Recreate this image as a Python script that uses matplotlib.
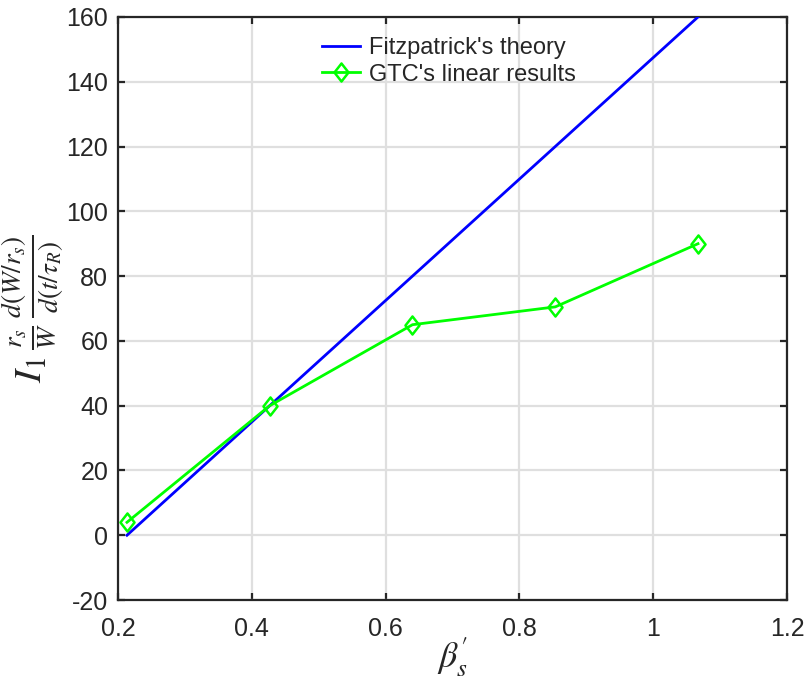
import matplotlib
matplotlib.use("Agg")
import matplotlib.pyplot as plt
from matplotlib.path import Path

# Normalized beta'_s values and growth-rate measures
beta_s = [0.2134, 0.4268, 0.6402, 0.8536, 1.067]
fitzpatrick = [0, 40, 80, 120, 160]
gtc_linear = [4.0, 40.0, 65.0, 70.5, 90.0]

x_ticks = [0.2, 0.4, 0.6, 0.8, 1.0, 1.2]
x_tick_labels = ["0.2", "0.4", "0.6", "0.8", "1", "1.2"]
y_ticks = [-20, 0, 20, 40, 60, 80, 100, 120, 140, 160]

plt.rcParams["font.family"] = ["Liberation Sans", "DejaVu Sans"]
plt.rcParams["mathtext.fontset"] = "stix"
plt.rcParams["axes.unicode_minus"] = False

# MATLAB-style diamond marker (slightly taller than wide)
diamond = Path([(0, 1), (0.78, 0), (0, -1), (-0.78, 0), (0, 1)],
               [Path.MOVETO, Path.LINETO, Path.LINETO, Path.LINETO, Path.CLOSEPOLY])

fig = plt.figure(figsize=(8.05, 6.79), dpi=100)
ax = fig.add_axes([0.1466, 0.1163, 0.831, 0.8587])

spine_c = "#262626"
ax.plot(beta_s, fitzpatrick, color="#0000ff", lw=2.0, label="Fitzpatrick's theory", zorder=3)
ax.plot(beta_s, gtc_linear, color="#00ff00", lw=2.0, marker=diamond, ms=13,
        mfc="none", mec="#00ff00", mew=1.8, label="GTC's linear results", zorder=4)

ax.set_xlim(0.2, 1.2)
ax.set_ylim(-20, 160)
ax.set_xticks(x_ticks)
ax.set_xticklabels(x_tick_labels)
ax.set_yticks(y_ticks)

ax.grid(True, color="#dfdfdf", lw=1.6)
ax.set_axisbelow(True)

for s in ax.spines.values():
    s.set_color(spine_c)
    s.set_linewidth(1.6)
ax.tick_params(direction="in", length=5, width=1.6, color=spine_c,
               labelsize=18, labelcolor="#262626", top=True, right=True)
ax.tick_params(axis="y", pad=7)
ax.tick_params(axis="x", pad=12)

ax.set_xlabel(r"$\beta_s'$", fontsize=26, color="#262626", labelpad=-4)
ax.set_ylabel(r"$I_1\,\frac{r_s}{W}\,\frac{d(W/r_s)}{d(t/\tau_R)}$", fontsize=28,
              color="#262626", labelpad=0)

leg = ax.legend(loc="upper center", bbox_to_anchor=(0.495, 0.99), frameon=False,
                fontsize=17, handlelength=1.6, handletextpad=0.4, labelspacing=0.2,
                borderaxespad=0.2)
for t in leg.get_texts():
    t.set_color("#262626")

fig.savefig("out.png", dpi=100)
